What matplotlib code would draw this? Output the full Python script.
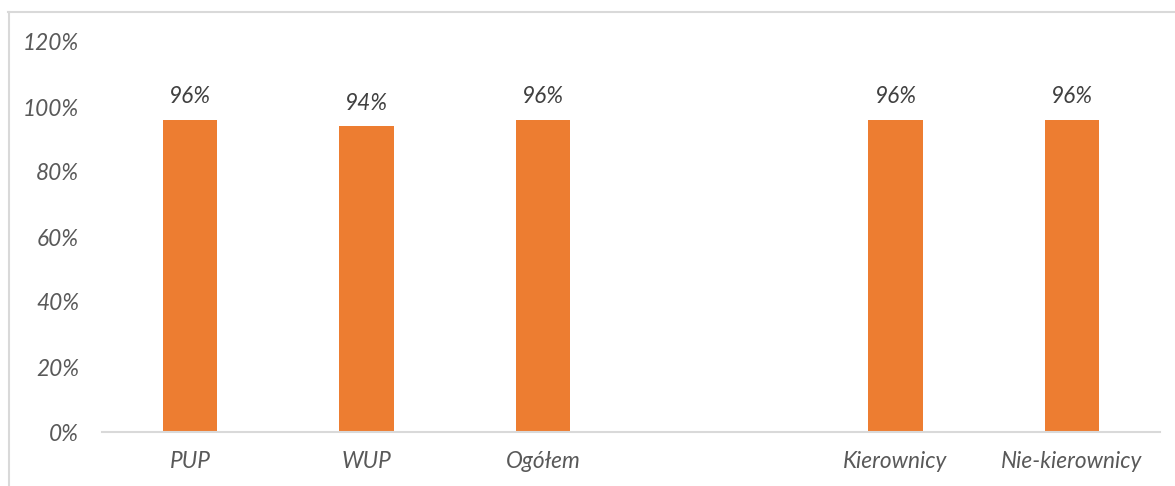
import matplotlib
matplotlib.use("Agg")
import matplotlib.pyplot as plt
from matplotlib.lines import Line2D
import numpy as np

categories = ["PUP", "WUP", "Ogółem", "", "Kierownicy", "Nie-kierownicy"]
values = [0.96, 0.94, 0.96, np.nan, 0.96, 0.96]
yticks = [0, 0.2, 0.4, 0.6, 0.8, 1.0, 1.2]
ytick_labels = ["0%", "20%", "40%", "60%", "80%", "100%", "120%"]

plt.rcParams['font.family'] = ['Lato', 'DejaVu Sans']

fig = plt.figure(figsize=(11.75, 4.86), dpi=100)
ax = fig.add_axes([102/1175, 54/486, 1058/1175, 390/486])

FS = 16.3

x = np.arange(len(categories))
ax.bar(x, values, width=0.31, color="#ED7D31", zorder=2)
for xi, v in zip(x, values):
    if not np.isnan(v):
        ax.text(xi, v + 0.072, f"{v*100:.0f}%", ha="center", va="center",
                fontsize=FS, style="italic", color="#404040")

ax.set_xlim(-0.5, len(categories) - 0.5)
ax.set_ylim(0, 1.2)
ax.set_yticks(yticks)
ax.set_yticklabels(ytick_labels, fontsize=FS, style="italic", color="#595959")
ax.set_xticks(x)
ax.set_xticklabels(categories, fontsize=FS, style="italic", color="#595959")
ax.tick_params(axis="y", length=0, pad=16.5)
ax.tick_params(axis="x", length=0, pad=13.5)
for s in ["top", "right", "left"]:
    ax.spines[s].set_visible(False)
ax.spines["bottom"].set_color("#D9D9D9")
ax.spines["bottom"].set_linewidth(1.5)

# outer chart frame (partially visible)
fig.add_artist(Line2D([8/1175, 1], [1 - 12.5/486, 1 - 12.5/486], color="#D9D9D9", lw=1.5))
fig.add_artist(Line2D([8.5/1175, 8.5/1175], [0, 1 - 12.5/486], color="#D9D9D9", lw=1.5))

fig.savefig("out.png", dpi=100)
